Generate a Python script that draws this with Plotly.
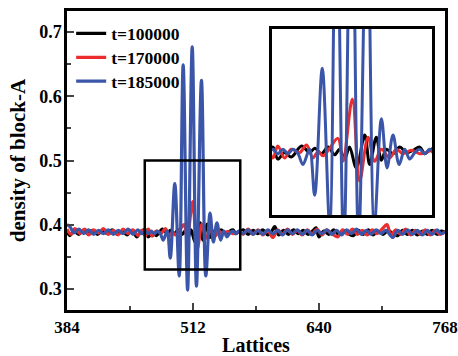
import plotly.graph_objects as go

# ---------------- data ----------------
x_black = [384, 387, 391, 396, 401, 405, 410, 415, 420, 425, 430, 435, 440, 445, 450, 455, 459,
           463.6, 466.6, 470.7, 474.7, 481, 485.8, 489, 493, 497, 501, 504, 507, 510, 514.1, 519.2,
           522.2, 526.2, 529.3, 532.3, 536.3, 540.4, 544.4, 548.4, 552.5, 555.5, 558.5,
           563, 568, 573, 578, 583, 588, 592, 595, 599, 604, 609, 614, 619, 624, 629, 634, 637, 640,
           645, 650, 655, 660, 665, 670, 675, 680, 685, 690, 695, 700, 705, 710, 715, 720, 725, 730,
           735, 740, 745, 750, 755, 760, 764, 768]
y_black = [0.390, 0.383, 0.390, 0.385, 0.392, 0.386, 0.391, 0.385, 0.390, 0.386, 0.392, 0.385, 0.390, 0.384, 0.391, 0.381, 0.389,
           0.392, 0.381, 0.387, 0.383, 0.393, 0.387, 0.391, 0.386, 0.392, 0.385, 0.390, 0.381, 0.392, 0.373, 0.403,
           0.376, 0.401, 0.380, 0.390, 0.386, 0.392, 0.387, 0.389, 0.392, 0.386, 0.389,
           0.392, 0.385, 0.391, 0.386, 0.392, 0.384, 0.390, 0.397, 0.384, 0.391, 0.385, 0.392, 0.386, 0.391, 0.385, 0.391, 0.395, 0.381,
           0.390, 0.385, 0.392, 0.385, 0.391, 0.386, 0.383, 0.391, 0.385, 0.392, 0.384, 0.390, 0.385, 0.391, 0.386, 0.383, 0.391, 0.385,
           0.391, 0.384, 0.390, 0.385, 0.391, 0.385, 0.390, 0.388]

x_red = [384, 388, 392, 397, 402, 406, 411, 416, 421, 426, 431, 436, 441, 446, 451, 456, 460,
         463.6, 466.6, 470.7, 474.7, 479.8, 484, 487.8, 491, 493.9, 498, 503, 506, 511.7, 516.1,
         521.2, 525.2, 529.3, 534.3, 538.3, 542.4, 547.4, 552.5, 556.5, 558.5,
         563, 568, 573, 578, 583, 588, 593, 598, 603, 608, 613, 618, 623, 628, 633, 638, 643, 648,
         653, 659, 664, 669, 674, 679, 684, 689, 694, 699, 704, 709, 713, 718, 723, 728, 733, 738,
         743, 748, 753, 758, 763, 768]
y_red = [0.393, 0.385, 0.394, 0.386, 0.393, 0.384, 0.392, 0.387, 0.394, 0.385, 0.391, 0.384, 0.393, 0.386, 0.392, 0.383, 0.391,
         0.382, 0.393, 0.382, 0.390, 0.387, 0.394, 0.382, 0.388, 0.384, 0.391, 0.400, 0.379, 0.436, 0.361,
         0.401, 0.379, 0.390, 0.382, 0.390, 0.386, 0.389, 0.386, 0.387, 0.389,
         0.385, 0.393, 0.385, 0.392, 0.384, 0.391, 0.380, 0.392, 0.385, 0.393, 0.385, 0.391, 0.384, 0.392, 0.386, 0.393, 0.384, 0.392,
         0.386, 0.381, 0.392, 0.385, 0.393, 0.385, 0.391, 0.384, 0.392, 0.386, 0.393, 0.400, 0.384, 0.392, 0.385, 0.393, 0.384, 0.391,
         0.385, 0.392, 0.384, 0.391, 0.385, 0.389]

x_blue = [384, 387, 391, 396, 401, 406, 411, 416, 421, 426, 431, 436, 441, 446, 451, 456, 460,
          463.6, 466.6, 469.7, 472.7, 475.7, 478.8, 481.8, 485.8, 488.9, 493.5, 498, 502, 506.5, 511.2,
          515.5, 520.6, 525, 529.3, 532.7, 536.3, 540, 543.4, 546.4, 549.5, 552.5, 555.5, 558.5,
          563, 568, 573, 578, 583, 588, 593, 598, 603, 608, 613, 618, 623, 628, 633, 638, 643, 648,
          653, 658, 663, 668, 673, 678, 683, 688, 693, 698, 703, 708, 715, 720, 725, 730, 735, 740,
          745, 750, 755, 760, 764, 768]
y_blue = [0.400, 0.397, 0.387, 0.393, 0.386, 0.392, 0.385, 0.391, 0.386, 0.392, 0.385, 0.391, 0.386, 0.393, 0.385, 0.392, 0.386,
          0.390, 0.386, 0.390, 0.386, 0.390, 0.386, 0.376, 0.390, 0.348, 0.464, 0.320, 0.649, 0.298, 0.677,
          0.304, 0.625, 0.320, 0.418, 0.373, 0.403, 0.376, 0.390, 0.381, 0.387, 0.390, 0.386, 0.390,
          0.386, 0.392, 0.385, 0.391, 0.385, 0.392, 0.386, 0.391, 0.384, 0.392, 0.386, 0.392, 0.385, 0.391, 0.384, 0.391, 0.386, 0.392,
          0.385, 0.391, 0.384, 0.392, 0.386, 0.393, 0.385, 0.391, 0.385, 0.392, 0.386, 0.391, 0.380, 0.391, 0.385, 0.392, 0.385, 0.391,
          0.384, 0.391, 0.385, 0.392, 0.386, 0.389]

series_names = ["t=100000", "t=170000", "t=185000"]
series_colors = ["#000000", "#ec2d2d", "#3b55a8"]

x_ticks = [384, 512, 640, 768]
y_ticks = [0.3, 0.4, 0.5, 0.6, 0.7]
zoom_x = [463, 560]
zoom_y = [0.33, 0.50]

FONT = "Liberation Serif, Times New Roman, serif"

fig = go.Figure()
data = [(x_black, y_black), (x_red, y_red), (x_blue, y_blue)]
legend_ids = ["legend", "legend2", "legend3"]
for (xs, ys), name, col, lg in zip(data, series_names, series_colors, legend_ids):
    fig.add_trace(go.Scatter(x=xs, y=ys, mode="lines", name=name, legend=lg,
                             line=dict(color=col, width=3.2, shape="spline", smoothing=1.0)))
for (xs, ys), name, col in zip(data, series_names, series_colors):
    fig.add_trace(go.Scatter(x=xs, y=ys, mode="lines", name=name, showlegend=False,
                             xaxis="x2", yaxis="y2",
                             line=dict(color=col, width=3, shape="spline", smoothing=1.0)))

fig.add_shape(type="rect", xref="x", yref="y", x0=zoom_x[0], x1=zoom_x[1],
              y0=zoom_y[0], y1=zoom_y[1], line=dict(color="black", width=2.5))

legend_style = dict(x=0.011, xanchor="left", yanchor="top", bgcolor="rgba(0,0,0,0)",
                    font=dict(size=17.5, family=FONT, weight="bold"))

fig.update_layout(
    template="none",
    width=458, height=356,
    margin=dict(l=67, r=13, t=11, b=46, autoexpand=False),
    paper_bgcolor="white", plot_bgcolor="white",
    font=dict(family=FONT, color="black", size=18, weight="bold"),
    showlegend=True,
    legend=dict(y=0.985, **legend_style),
    legend2=dict(y=0.905, **legend_style),
    legend3=dict(y=0.825, **legend_style),
    xaxis=dict(range=[384, 768], tickvals=x_ticks, ticks="inside", ticklen=7, tickwidth=2,
               minor=dict(dtick=64, tick0=384, ticks="inside", ticklen=4, tickwidth=2),
               showline=True, linewidth=2.5, linecolor="black", mirror=True,
               showgrid=False, zeroline=False, automargin=False, ticklabeloverflow="allow",
               tickfont=dict(size=17, family=FONT, weight="bold"),
               title=dict(text="Lattices", font=dict(size=20, family=FONT, weight="bold"), standoff=4)),
    yaxis=dict(range=[0.267, 0.733], tickvals=y_ticks, ticktext=["0.3", "0.4", "0.5", "0.6", "0.7"],
               ticks="inside", ticklen=7, tickwidth=2, ticklabelstandoff=-1,
               minor=dict(dtick=0.05, tick0=0.3, ticks="inside", ticklen=4, tickwidth=2),
               showline=True, linewidth=2.5, linecolor="black", mirror=True,
               showgrid=False, zeroline=False, automargin=False,
               tickfont=dict(size=18, family=FONT, weight="bold"),
               title=dict(text="density of block-A", font=dict(size=21, family=FONT, weight="bold"), standoff=8)),
    xaxis2=dict(domain=[0.542, 0.966], anchor="y2", range=zoom_x, showticklabels=False, ticks="",
                showline=True, linewidth=2.5, linecolor="black", mirror=True,
                showgrid=False, zeroline=False),
    yaxis2=dict(domain=[0.318, 0.94], anchor="x2", range=zoom_y, showticklabels=False, ticks="",
                showline=True, linewidth=2.5, linecolor="black", mirror=True,
                showgrid=False, zeroline=False),
)

# remove the page's default 8px body margin so the 458x356 figure fills the window exactly
fig.write_html("out.html",
               config={"displayModeBar": False},
               post_script="document.body.style.margin='0px';"
                           "document.documentElement.style.overflow='hidden';")
